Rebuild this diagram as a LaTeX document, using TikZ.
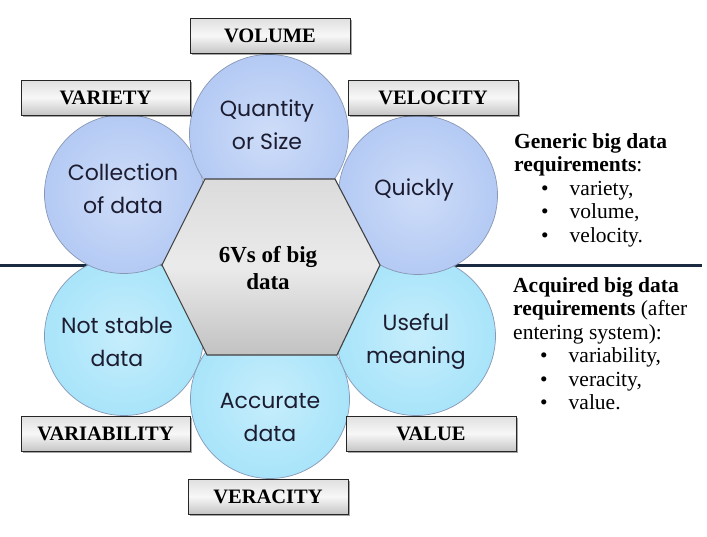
\documentclass[tikz,border=0pt]{standalone}
\usepackage{fontspec}
\setmainfont{Liberation Serif}
\newfontfamily\handfont{Poppins}
\usetikzlibrary{shadows}

\definecolor{topblue}{HTML}{B4CAF4}
\definecolor{lowcyan}{HTML}{A8E4FA}
\definecolor{rimgray}{HTML}{8898B4}
\definecolor{inkblue}{HTML}{1C1C30}
\definecolor{splitline}{HTML}{1A2A40}

\begin{document}
\begin{tikzpicture}[x=1pt, y=-1pt,
  vcirc/.style={circle, minimum size=159pt, inner sep=0pt, draw=rimgray, line width=0.7pt},
  upper/.style={vcirc, inner color=topblue!65!white, outer color=topblue},
  lower/.style={vcirc, inner color=lowcyan!65!white, outer color=lowcyan},
  hand/.style={font=\handfont\fontsize{22}{33}\selectfont, text=inkblue, align=center},
  vlabel/.style={draw=black!85, line width=0.8pt, minimum height=35pt, inner sep=0pt,
    top color=gray!25, bottom color=gray!45, middle color=gray!6,
    drop shadow={shadow xshift=1.5pt, shadow yshift=-1.5pt, fill=black, opacity=0.35},
    font=\fontsize{20.5}{24}\selectfont\bfseries},
  note/.style={font=\fontsize{21.5}{23.5}\selectfont, align=left, inner sep=0pt, anchor=north west}]
\useasboundingbox (0,0) rectangle (707,536);

% dividing line
\coordinate (west) at (0,265);
\coordinate (east) at (702,265);
\draw[splitline, line width=3pt] (west) -- (east);

% circles
\node[lower] (cvar) at (124,336) {};
\node[lower] (cval) at (416,336) {};
\node[lower] (cver) at (270,399) {};
\node[upper] (cvty) at (124,194) {};
\node[upper] (cvel) at (418,195) {};
\node[upper] (cvol) at (269,134) {};

% centre hexagon
\coordinate (h1) at (162,265);
\coordinate (h2) at (205,179);
\coordinate (h3) at (335,179);
\coordinate (h4) at (380,265);
\coordinate (h5) at (337,355);
\coordinate (h6) at (207,355);
\path[draw=black!75, line width=1.1pt, top color=gray!28, bottom color=gray!48, middle color=gray!16]
  (h1) -- (h2) -- (h3) -- (h4) -- (h5) -- (h6) -- cycle;
\node[font=\fontsize{23}{27}\selectfont\bfseries, align=center] (core) at (268,268) {6Vs of big\\data};

% circle texts
\node[hand] (tvol) at (267,125) {Quantity\\or Size};
\node[hand] (tvty) at (123,189) {Collection\\of data};
\node[hand] (tvel) at (414,190) {Quickly};
\node[hand] (tvar) at (117,342) {Not stable\\data};
\node[hand] (tval) at (416,342) {Useful\\meaning};
\node[hand] (tver) at (270,417) {Accurate\\data};

% label boxes
\node[vlabel, minimum width=160pt] (volume) at (270,35.5) {VOLUME};
\node[vlabel, minimum width=169pt] (variety) at (105.5,97.5) {VARIETY};
\node[vlabel, minimum width=170pt] (velocity) at (433,97.5) {VELOCITY};
\node[vlabel, minimum width=169pt] (variability) at (105.5,433.5) {VARIABILITY};
\node[vlabel, minimum width=170pt] (value) at (431,433.5) {VALUE};
\node[vlabel, minimum width=160pt] (veracity) at (268,496.5) {VERACITY};

% requirement notes
\node[note] (generic) at (514,133) {\textbf{Generic big data}\\
  \textbf{requirements}:\\
  \hspace*{27pt}\textbullet\hspace{21pt}variety,\\
  \hspace*{27pt}\textbullet\hspace{21pt}volume,\\
  \hspace*{27pt}\textbullet\hspace{21pt}velocity.};
\node[note] (acquired) at (513,277) {\textbf{Acquired big data}\\
  \textbf{requirements} (after\\
  entering system):\\
  \hspace*{27pt}\textbullet\hspace{21pt}variability,\\
  \hspace*{27pt}\textbullet\hspace{21pt}veracity,\\
  \hspace*{27pt}\textbullet\hspace{21pt}value.};
\end{tikzpicture}
\end{document}
